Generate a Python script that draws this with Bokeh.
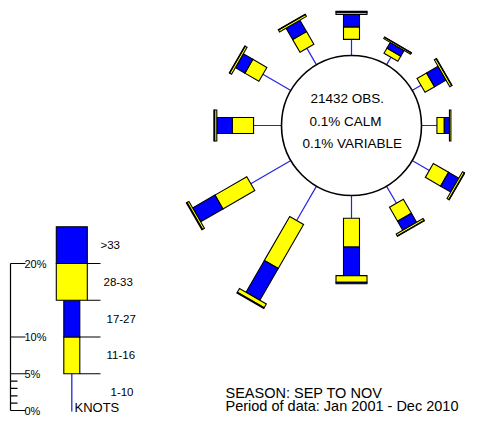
import numpy as np
from bokeh.plotting import figure
from bokeh.models import Range1d
from bokeh.embed import file_html
from bokeh.resources import INLINE
from bokeh.core.properties import value

# ---------------- data ----------------
directions = [0, 30, 60, 90, 120, 150, 180, 210, 240, 270, 300, 330]
pct_1_10 = [2.2, 1.2, 1.4, 2.1, 2.7, 2.7, 3.1, 5.4, 6.3, 3.8, 4.4, 2.6]
pct_11_16 = [1.7, 0.8, 1.5, 1.0, 2.4, 2.2, 3.9, 6.9, 5.0, 2.9, 2.2, 2.0]
pct_17_27 = [1.7, 0.9, 1.8, 0.7, 1.6, 1.4, 3.9, 5.0, 3.5, 2.1, 1.5, 1.8]
pct_28_33 = [0.3, 0.2, 0.3, 0.2, 0.3, 0.3, 0.9, 0.6, 0.3, 0.3, 0.3, 0.3]
pct_gt_33 = [0.1, 0.05, 0.05, 0.0, 0.05, 0.05, 0.2, 0.1, 0.1, 0.1, 0.05, 0.05]

key_labels = ["1-10", "11-16", "17-27", "28-33", ">33"]
key_pct = [5, 5, 5, 5, 5]
scale_major = [0, 5, 10, 20]
scale_major_labels = ["0%", "5%", "10%", "20%"]
scale_minor = [1, 2, 3, 4]

center_lines = ["21432 OBS.", "0.1% CALM", "0.1% VARIABLE"]
footer_lines = ["SEASON: SEP TO NOV", "Period of data: Jan 2001 - Dec 2010"]

# ---------------- styling / layout ----------------
YELLOW = "#ffff00"
BLUE = "#0000ff"
LINEBLUE = "#2323e6"
FONT = value("Liberation Sans")

CX, CY, R0 = 351.0, 125.0, 70.0   # rose centre and calm circle radius (px)
K = 7.35                           # px per percent
HW_N, HW_W = 8.0, 15.5             # half widths of narrow / wide bars

p = figure(width=465, height=416, x_range=Range1d(0, 465), y_range=Range1d(416, 0),
           output_backend="svg", toolbar_location=None,
           x_axis_type=None, y_axis_type=None, min_border=0)
p.grid.visible = False
p.outline_line_color = None
p.background_fill_color = "white"


def seg(theta, r0, r1, hw):
    t = np.radians(theta)
    ux, uy = np.sin(t), -np.cos(t)
    vx, vy = np.cos(t), np.sin(t)
    xs = [CX + r0 * ux + hw * vx, CX + r1 * ux + hw * vx,
          CX + r1 * ux - hw * vx, CX + r0 * ux - hw * vx]
    ys = [CY + r0 * uy + hw * vy, CY + r1 * uy + hw * vy,
          CY + r1 * uy - hw * vy, CY + r0 * uy - hw * vy]
    return xs, ys


# rose
line_xs, line_ys = [], []
pxs, pys, pcol = [], [], []
for i, d in enumerate(directions):
    t = np.radians(d)
    ux, uy = np.sin(t), -np.cos(t)
    r1 = R0 + K * pct_1_10[i]
    line_xs.append([CX + R0 * ux, CX + r1 * ux])
    line_ys.append([CY + R0 * uy, CY + r1 * uy])
    r = r1
    for val, hw, col in [(pct_11_16[i], HW_N, YELLOW), (pct_17_27[i], HW_N, BLUE),
                         (pct_28_33[i], HW_W, YELLOW), (pct_gt_33[i], HW_W, BLUE)]:
        if val <= 0:
            continue
        xs, ys = seg(d, r, r + K * val, hw)
        pxs.append(xs); pys.append(ys); pcol.append(col)
        r += K * val

p.multi_line(line_xs, line_ys, line_color=LINEBLUE, line_width=1.2)
p.circle(x=[CX], y=[CY], radius=R0, fill_color="white", line_color="black", line_width=1.6)
p.patches(pxs, pys, fill_color=pcol, line_color="black", line_width=1.1, line_join="miter")

p.text(x=[310, 309, 302], y=[98, 120.5, 143], text=center_lines, text_font=FONT,
       text_font_size="13.5px", text_baseline="middle", text_align="left", text_color="black")

# ---------------- key ----------------
LX, LY0 = 71.3, 410.0
bounds = np.concatenate([[0], np.cumsum(key_pct)])
# 1-10 line
p.line([LX, LX], [LY0 + 1, LY0 - K * bounds[1]], line_color=LINEBLUE, line_width=1.3)
kxs, kys, kcol = [], [], []
for j in range(1, len(key_pct)):
    hw = HW_N if j <= 2 else HW_W
    col = YELLOW if j % 2 == 1 else BLUE
    y0, y1 = LY0 - K * bounds[j], LY0 - K * bounds[j + 1]
    kxs.append([LX - hw, LX + hw, LX + hw, LX - hw])
    kys.append([y0, y0, y1, y1])
    kcol.append(col)
p.patches(kxs, kys, fill_color=kcol, line_color="black", line_width=1.1, line_join="miter")
# divider lines to labels
dx0, dy0 = [], []
for j in range(1, len(key_pct)):
    hw = HW_N if j <= 2 else HW_W
    yy = LY0 - K * bounds[j]
    dx0.append([LX + hw, 100]); dy0.append([yy, yy])
p.multi_line(dx0, dy0, line_color="black", line_width=1.1)
# key labels
lab_x = [110, 106, 106, 103, 100]
lab_y = [LY0 - K * (bounds[j] + bounds[j + 1]) / 2 for j in range(len(key_pct))]
p.text(x=lab_x, y=lab_y, text=key_labels, text_font=FONT, text_font_size="11.5px",
       text_baseline="middle", text_align="left", text_color="black")
p.text(x=[74], y=[406.5], text=["KNOTS"], text_font=FONT, text_font_size="13px",
       text_baseline="middle", text_align="left", text_color="black")

# percentage scale
AX = 10.0
p.line([AX, AX], [LY0, LY0 - K * max(scale_major)], line_color="black", line_width=1.2)
p.multi_line([[AX, 25] for _ in scale_major], [[LY0 - K * v] * 2 for v in scale_major],
             line_color="black", line_width=1.2)
p.multi_line([[AX, 17] for _ in scale_minor], [[LY0 - K * v] * 2 for v in scale_minor],
             line_color="black", line_width=1.2)
p.text(x=[24] * len(scale_major), y=[LY0 - K * v for v in scale_major], text=scale_major_labels,
       text_font=FONT, text_font_size="11px", text_baseline="middle", text_align="left",
       text_color="black")

# footer
p.text(x=[225, 225], y=[392.5, 405.5], text=footer_lines, text_font=FONT, text_font_size="14.5px",
       text_baseline="middle", text_align="left", text_color="black")

open("out.html", "w").write(file_html(p, INLINE))
